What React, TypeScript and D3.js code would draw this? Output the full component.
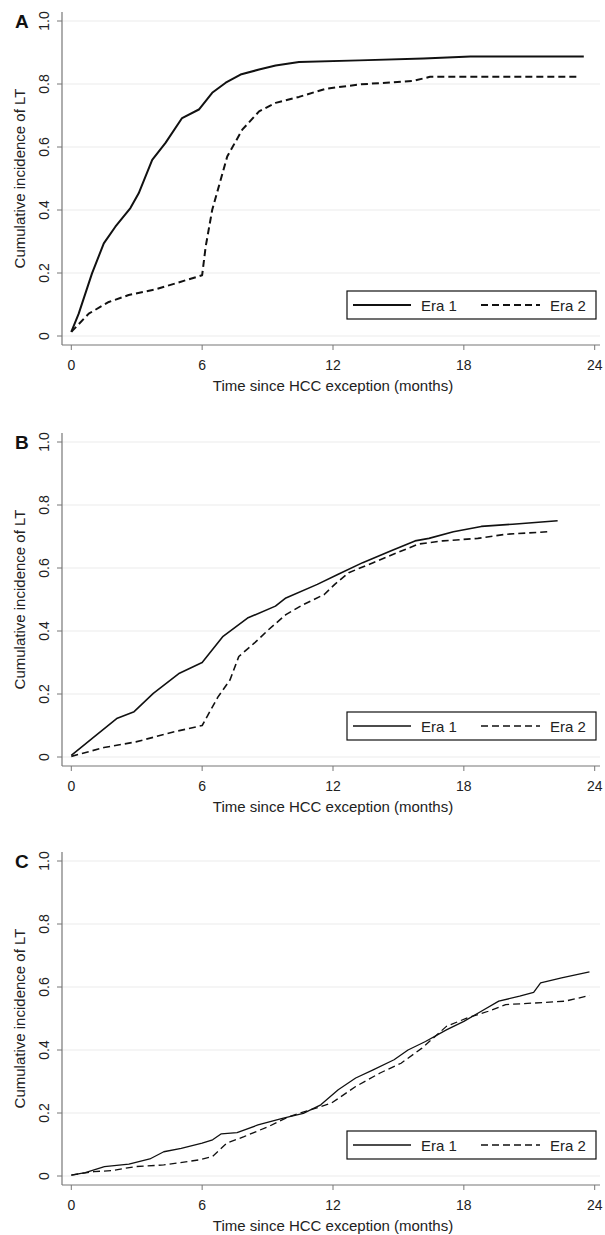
import React from "react";
import * as d3 from "d3";

// ---- data (months, cumulative incidence) ----
const xTicks = [0, 6, 12, 18, 24];
const yTicks = [0, 0.2, 0.4, 0.6, 0.8, 1.0];
const yTickLabels = ["0", "0.2", "0.4", "0.6", "0.8", "1.0"];
const seriesNames = ["Era 1", "Era 2"];
const panelLabels = ["A", "B", "C"];

const aEra1T = [0, 0.34, 0.95, 1.49, 2.02, 2.71, 3.09, 3.71, 4.32, 5.08, 5.85, 6.46, 7.08, 7.76, 8.61, 9.37, 10.44, 13.2, 16.15, 17.5, 18.3, 23.5];
const aEra1V = [0.013, 0.071, 0.199, 0.294, 0.347, 0.406, 0.453, 0.559, 0.613, 0.692, 0.719, 0.772, 0.804, 0.83, 0.846, 0.859, 0.87, 0.875, 0.881, 0.885, 0.887, 0.887];
const aEra2T = [0, 0.8, 1.72, 2.63, 3.86, 4.78, 6.0, 6.16, 6.46, 6.85, 7.15, 7.84, 8.61, 9.37, 10.44, 11.67, 13.3, 15.7, 16.45, 23.3];
const aEra2V = [0.013, 0.071, 0.108, 0.13, 0.148, 0.167, 0.193, 0.283, 0.4, 0.496, 0.57, 0.655, 0.713, 0.74, 0.759, 0.785, 0.799, 0.81, 0.823, 0.823];

const bEra1T = [0, 0.96, 2.08, 2.88, 3.76, 4.96, 6.0, 6.96, 8.08, 9.36, 9.84, 11.28, 12.24, 13.36, 14.64, 15.76, 16.4, 17.52, 18.8, 20.24, 22.3];
const bEra1V = [0.005, 0.059, 0.122, 0.144, 0.202, 0.266, 0.3, 0.383, 0.441, 0.479, 0.505, 0.548, 0.58, 0.617, 0.654, 0.686, 0.694, 0.715, 0.732, 0.739, 0.75];
const bEra2T = [0, 1.5, 2.96, 4.72, 6.0, 6.72, 7.28, 7.68, 8.4, 9.04, 9.84, 10.64, 11.6, 12.08, 12.72, 13.84, 14.96, 15.92, 17.04, 18.64, 19.92, 21.84];
const bEra2V = [0.002, 0.03, 0.048, 0.08, 0.1, 0.19, 0.245, 0.319, 0.362, 0.404, 0.452, 0.484, 0.516, 0.548, 0.585, 0.617, 0.649, 0.676, 0.686, 0.694, 0.707, 0.715];

const cEra1T = [0, 0.64, 1.52, 2.64, 3.6, 4.24, 5.04, 6.0, 6.48, 6.88, 7.6, 8.56, 9.68, 10.64, 11.44, 12.24, 13.04, 13.84, 14.8, 15.44, 16.24, 17.2, 18.0, 18.8, 19.6, 20.56, 21.2, 21.52, 22.48, 23.76];
const cEra1V = [0.003, 0.011, 0.03, 0.038, 0.054, 0.077, 0.088, 0.104, 0.115, 0.134, 0.138, 0.162, 0.183, 0.199, 0.226, 0.274, 0.311, 0.337, 0.369, 0.4, 0.427, 0.464, 0.491, 0.523, 0.555, 0.571, 0.583, 0.613, 0.629, 0.648];
const cEra2T = [0, 1.04, 1.84, 2.96, 4.24, 5.84, 6.48, 7.12, 7.92, 9.04, 10.0, 10.96, 11.92, 13.04, 14.16, 15.12, 16.08, 17.2, 18.16, 19.12, 19.92, 21.2, 22.64, 23.76];
const cEra2V = [0.003, 0.014, 0.017, 0.03, 0.035, 0.051, 0.062, 0.104, 0.125, 0.157, 0.189, 0.21, 0.231, 0.284, 0.327, 0.358, 0.406, 0.475, 0.502, 0.523, 0.544, 0.549, 0.555, 0.573];

const zip = (t: number[], v: number[]) => t.map((d, i) => [d, v[i]] as [number, number]);

const panels = [
  { label: panelLabels[0], e1: zip(aEra1T, aEra1V), e2: zip(aEra2T, aEra2V), offset: 0, sw: 2.0 },
  { label: panelLabels[1], e1: zip(bEra1T, bEra1V), e2: zip(bEra2T, bEra2V), offset: 421, sw: 1.6 },
  { label: panelLabels[2], e1: zip(cEra1T, cEra1V), e2: zip(cEra2T, cEra2V), offset: 840, sw: 1.3 },
];

const FONT = "'Liberation Sans', Arial, Helvetica, sans-serif";
const x = d3.scaleLinear().domain([0, 24]).range([71.3, 594.7]);

function Panel({ p }: { p: typeof panels[number] }) {
  const y = d3.scaleLinear().domain([0, 1]).range([336 + p.offset, 21 + p.offset]);
  const line = d3.line<[number, number]>().x((d) => x(d[0])).y((d) => y(d[1]));
  const axisY = y(0) + 9;
  const axisX = 62;
  const legTop = y(0) - 45;
  const legMid = legTop + 14;
  return (
    <g>
      <text x={15} y={28 + p.offset} fontFamily={FONT} fontWeight="bold" fontSize={19} fill="#111">
        {p.label}
      </text>
      {yTicks.map((t) => (
        <line key={"g" + t} x1={axisX} x2={600} y1={y(t)} y2={y(t)} stroke="#ebebeb" strokeWidth={1} />
      ))}
      <line x1={axisX} x2={axisX} y1={12 + p.offset} y2={axisY} stroke="#777" strokeWidth={1.2} />
      <line x1={axisX} x2={600} y1={axisY} y2={axisY} stroke="#777" strokeWidth={1.2} />
      {yTicks.map((t, i) => (
        <g key={"y" + t}>
          <line x1={axisX - 5} x2={axisX} y1={y(t)} y2={y(t)} stroke="#777" strokeWidth={1} />
          <text
            transform={`translate(49,${y(t)}) rotate(-90)`}
            textAnchor="middle"
            fontFamily={FONT}
            fontSize={14}
            fill="#222"
          >
            {yTickLabels[i]}
          </text>
        </g>
      ))}
      {xTicks.map((t) => (
        <g key={"x" + t}>
          <line x1={x(t)} x2={x(t)} y1={axisY} y2={axisY + 5} stroke="#777" strokeWidth={1} />
          <text x={x(t)} y={axisY + 24.5} textAnchor="middle" fontFamily={FONT} fontSize={14} fill="#222">
            {t}
          </text>
        </g>
      ))}
      <text x={x(12)} y={axisY + 46} textAnchor="middle" fontFamily={FONT} fontSize={15} fill="#222">
        Time since HCC exception (months)
      </text>
      <text
        transform={`translate(25,${y(0.5)}) rotate(-90)`}
        textAnchor="middle"
        fontFamily={FONT}
        fontSize={15}
        fill="#222"
      >
        Cumulative incidence of LT
      </text>
      <path d={line(p.e1) || ""} fill="none" stroke="#111" strokeWidth={p.sw} strokeLinejoin="round" />
      <path
        d={line(p.e2) || ""}
        fill="none"
        stroke="#111"
        strokeWidth={p.sw}
        strokeDasharray="7,4"
        strokeLinejoin="round"
      />
      <rect x={347} y={legTop} width={249} height={28} fill="#fff" stroke="#111" strokeWidth={1.2} />
      <line x1={353} x2={411} y1={legMid} y2={legMid} stroke="#111" strokeWidth={p.sw} />
      <text x={421} y={legMid + 5.5} fontFamily={FONT} fontSize={15} fill="#222">
        {seriesNames[0]}
      </text>
      <line x1={481} x2={540} y1={legMid} y2={legMid} stroke="#111" strokeWidth={p.sw} strokeDasharray="7,4" />
      <text x={550} y={legMid + 5.5} fontFamily={FONT} fontSize={15} fill="#222">
        {seriesNames[1]}
      </text>
    </g>
  );
}

export default function App() {
  return (
    <svg
      width={605}
      height={1235}
      style={{ position: "absolute", left: 0, top: 0, background: "#fff" }}
      xmlns="http://www.w3.org/2000/svg"
    >
      <rect x={0} y={0} width={605} height={1235} fill="#fff" />
      {panels.map((p) => (
        <Panel key={p.label} p={p} />
      ))}
    </svg>
  );
}
